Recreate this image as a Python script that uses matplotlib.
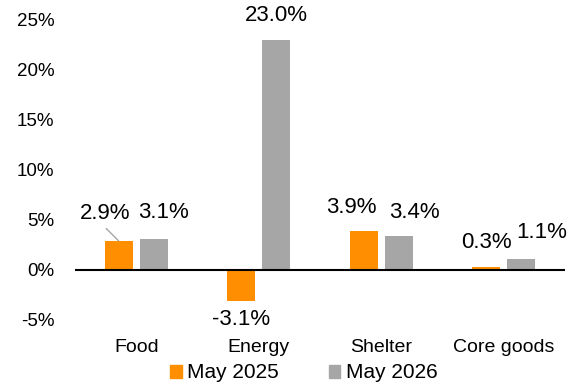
import matplotlib
matplotlib.use("Agg")
import matplotlib.pyplot as plt
import numpy as np
from matplotlib.patches import Patch

categories = ["Food", "Energy", "Shelter", "Core goods"]
may_2025 = [2.9, -3.1, 3.9, 0.3]
may_2026 = [3.1, 23.0, 3.4, 1.1]
series_names = ["May 2025", "May 2026"]
yticks = [-5, 0, 5, 10, 15, 20, 25]

orange = "#FF8F00"
gray = "#A6A6A6"

plt.rcParams['font.family'] = ['Liberation Sans', 'DejaVu Sans']

fig = plt.figure(figsize=(5.71, 3.86), dpi=100)
ax = fig.add_axes([75/571, 1-320/386, 490/571, 300/386])

x = np.arange(len(categories))
w = 0.23
off = 0.143
ax.bar(x - off, may_2025, w, color=orange)
ax.bar(x + off, may_2026, w, color=gray)

ax.set_xlim(-0.5, 3.5)
ax.set_ylim(-5, 25)
ax.set_yticks(yticks)
ax.set_yticklabels([f"{v}%" for v in yticks], fontsize=13.5)
ax.set_xticks(x)
ax.set_xticklabels(categories, fontsize=14)
ax.tick_params(axis='y', length=0, pad=15)
ax.tick_params(axis='x', length=0, pad=14)
for s in ax.spines.values():
    s.set_visible(False)
ax.axhline(0, color='black', lw=1.5)

# data labels with manual offsets (points)
offs1 = [(-10, 20), (0, -13), (-9, 17), (0, 18)]
offs2 = [(7, 19), (0, 17.5), (11, 17), (15, 19)]
for i, v in enumerate(may_2025):
    dx, dy = offs1[i]
    ax.annotate(f"{v:.1f}%", (x[i] - off, v), xytext=(dx, dy), textcoords='offset points',
                ha='center', va='center', fontsize=16)
for i, v in enumerate(may_2026):
    dx, dy = offs2[i]
    ax.annotate(f"{v:.1f}%", (x[i] + off, v), xytext=(dx, dy), textcoords='offset points',
                ha='center', va='center', fontsize=16)

# leader line for Food May 2025
ax.annotate("", (x[0] - off, may_2025[0]), xytext=(-9, 9), textcoords='offset points',
            arrowprops=dict(arrowstyle='-', color='#A6A6A6', lw=1, shrinkA=0, shrinkB=0))

handles = [Patch(color=orange), Patch(color=gray)]
fig.legend(handles, series_names, loc='center', bbox_to_anchor=(303.5/571, 1-373/386), ncol=2,
           frameon=False, fontsize=15, handlelength=0.57, handleheight=0.57,
           handletextpad=0.25, columnspacing=2.4, borderpad=0)

fig.savefig("out.png", dpi=100)
